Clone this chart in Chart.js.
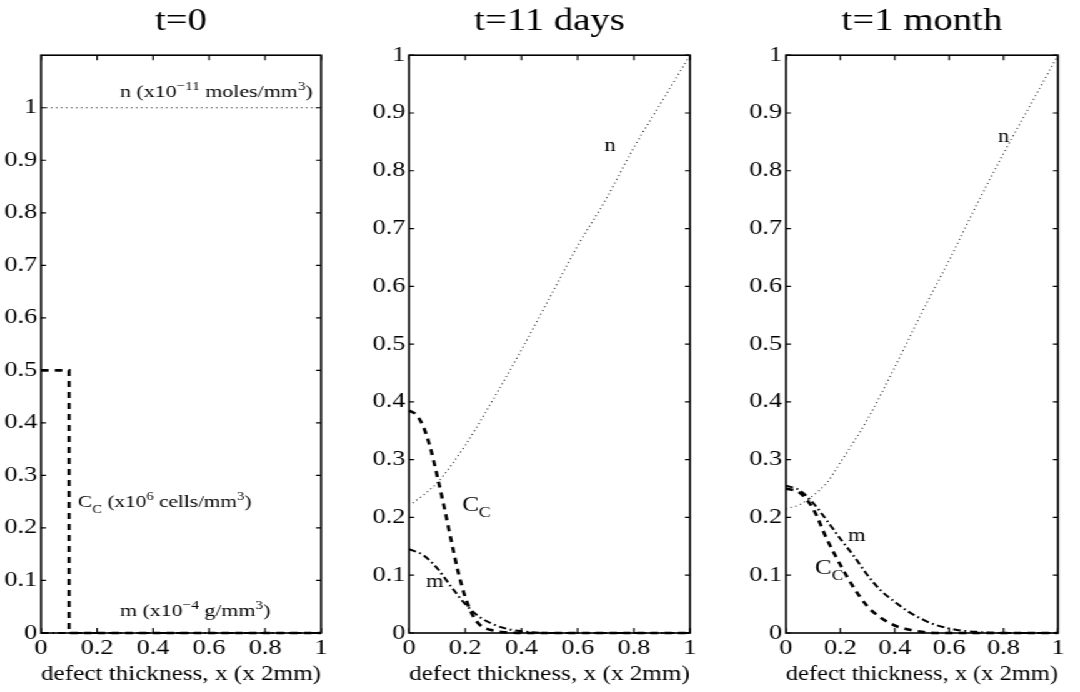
<!DOCTYPE html>
<html>
<head>
<meta charset="utf-8">
<script src="https://cdn.jsdelivr.net/npm/chart.js@4.4.1/dist/chart.umd.min.js"></script>
<style>
  html, body { margin: 0; padding: 0; background: #fff; overflow: hidden; }
  /* the original figure is stretched sideways, so draw narrow and widen */
  #stage { position: absolute; left: 0; top: 0; width: 864px; height: 692px; transform: scaleX(1.25); transform-origin: 0 0; }
  #stage canvas { position: absolute; top: 0; }
</style>
</head>
<body>
<div id="stage">
  <canvas id="c0" width="288" height="692" style="left:0px"></canvas>
  <canvas id="c1" width="288" height="692" style="left:288px"></canvas>
  <canvas id="c2" width="288" height="692" style="left:576px"></canvas>
</div>
<script>
// Tick labels
const xTickLabels = ["0", "0.2", "0.4", "0.6", "0.8", "1"];
const yTickLabels = ["0", "0.1", "0.2", "0.3", "0.4", "0.5", "0.6", "0.7", "0.8", "0.9", "1"];
const panelTitles = ["t=0", "t=11 days", "t=1 month"];
const xAxisTitle = "defect thickness, x (x 2mm)";

// t=0
const n0X = [0, 1];
const n0Y = [1, 1];
const cc0X = [0, 0.1, 0.1, 1];
const cc0Y = [0.5, 0.5, 0, 0];
const m0X = [0, 1];
const m0Y = [0, 0];

// t=11 days
const n11X = [0, 0.1, 0.2, 0.3, 0.4, 0.5, 0.6, 0.7, 0.8, 0.9, 1];
const n11Y = [0.22, 0.26, 0.325, 0.405, 0.49, 0.58, 0.67, 0.75, 0.84, 0.92, 1.0];
const cc11X = [0, 0.025, 0.05, 0.075, 0.1, 0.125, 0.15, 0.175, 0.2, 0.225, 0.25, 0.3, 0.35, 0.4, 0.6, 0.8, 1];
const cc11Y = [0.385, 0.378, 0.358, 0.322, 0.272, 0.218, 0.16, 0.105, 0.062, 0.032, 0.015, 0.004, 0.001, 0, 0, 0, 0];
const m11X = [0, 0.05, 0.1, 0.15, 0.2, 0.25, 0.3, 0.35, 0.4, 0.45, 0.5, 0.6, 0.8, 1];
const m11Y = [0.145, 0.135, 0.112, 0.08, 0.05, 0.028, 0.015, 0.007, 0.003, 0.001, 0, 0, 0, 0];

// t=1 month
const n30X = [0, 0.05, 0.1, 0.15, 0.2, 0.3, 0.4, 0.5, 0.6, 0.7, 0.8, 0.9, 1];
const n30Y = [0.215, 0.222, 0.238, 0.26, 0.295, 0.37, 0.46, 0.555, 0.645, 0.74, 0.83, 0.915, 1.0];
const cc30X = [0, 0.05, 0.1, 0.15, 0.2, 0.25, 0.3, 0.35, 0.4, 0.45, 0.5, 0.55, 0.6, 0.8, 1];
const cc30Y = [0.25, 0.243, 0.215, 0.163, 0.118, 0.078, 0.046, 0.026, 0.013, 0.006, 0.002, 0, 0, 0, 0];
const m30X = [0, 0.05, 0.1, 0.15, 0.2, 0.25, 0.3, 0.35, 0.4, 0.45, 0.5, 0.55, 0.6, 0.65, 0.7, 0.8, 0.9, 1];
const m30Y = [0.255, 0.247, 0.225, 0.195, 0.163, 0.133, 0.1, 0.073, 0.054, 0.037, 0.024, 0.014, 0.008, 0.004, 0.002, 0, 0, 0];

const SERIF = '"Liberation Serif", "Times New Roman", serif';
Chart.defaults.color = "#000";

function pts(xs, ys) {
  return xs.map((x, i) => ({ x: x, y: ys[i] }));
}

// line styles: n dotted, C_C dashed, m dash-dot
function nLine(xs, ys) {
  return { data: pts(xs, ys), borderColor: "#222", borderWidth: 1.1, borderDash: [1, 3] };
}
function ccLine(xs, ys) {
  return { data: pts(xs, ys), borderColor: "#000", borderWidth: 2.6, borderDash: [6, 5] };
}
function mLine(xs, ys) {
  return { data: pts(xs, ys), borderColor: "#000", borderWidth: 2, borderDash: [6, 3, 1.5, 3] };
}

// box + inward ticks on all four sides
const frame = {
  id: "frame",
  beforeDatasetsDraw(chart) {
    const ctx = chart.ctx;
    const a = chart.chartArea;
    const x = chart.scales.x, y = chart.scales.y;
    ctx.save();
    ctx.strokeStyle = "#000";
    ctx.lineWidth = 1.6;
    ctx.strokeRect(a.left, a.top, a.right - a.left, a.bottom - a.top);
    ctx.lineWidth = 1.2;
    ctx.beginPath();
    xTickLabels.forEach(t => {
      const px = x.getPixelForValue(+t);
      ctx.moveTo(px, a.bottom); ctx.lineTo(px, a.bottom - 5);
      ctx.moveTo(px, a.top); ctx.lineTo(px, a.top + 5);
    });
    yTickLabels.forEach(t => {
      const py = y.getPixelForValue(+t);
      ctx.moveTo(a.left, py); ctx.lineTo(a.left + 4, py);
      ctx.moveTo(a.right, py); ctx.lineTo(a.right - 4, py);
    });
    ctx.stroke();
    ctx.restore();
  }
};

// text with super/subscripts
function drawRich(ctx, parts, x, y, size, align) {
  const f = s => s + "px " + SERIF;
  let w = 0;
  parts.forEach(p => { ctx.font = f(p[1] === "n" ? size : size * 0.7); w += ctx.measureText(p[0]).width; });
  let cx = align === "right" ? x - w : align === "center" ? x - w / 2 : x;
  parts.forEach(p => {
    const s = p[1] === "n" ? size : size * 0.7;
    ctx.font = f(s);
    const dy = p[1] === "sup" ? -size * 0.42 : p[1] === "sub" ? size * 0.3 : 0;
    ctx.fillText(p[0], cx, y + dy);
    cx += ctx.measureText(p[0]).width;
  });
}

const notesPlugin = {
  id: "notes",
  afterDatasetsDraw(chart, args, opts) {
    const ctx = chart.ctx;
    ctx.save();
    ctx.fillStyle = "#000";
    ctx.textAlign = "left";
    ctx.textBaseline = "alphabetic";
    (opts.items || []).forEach(n => {
      drawRich(ctx, n.parts, chart.scales.x.getPixelForValue(n.x), chart.scales.y.getPixelForValue(n.y), n.size, n.align);
    });
    ctx.restore();
  }
};

function makePanel(id, title, yMax, left, right, sets, notes, smooth) {
  new Chart(document.getElementById(id), {
    type: "scatter",
    data: {
      datasets: sets.map(s => Object.assign(s, {
        showLine: true, pointRadius: 0, fill: false, clip: false,
        tension: 0, cubicInterpolationMode: smooth ? "monotone" : "default"
      }))
    },
    options: {
      responsive: false,
      animation: false,
      devicePixelRatio: 1,
      layout: { padding: { left: 0, right: 288 - right, top: 0, bottom: 0 } },
      plugins: {
        legend: { display: false },
        tooltip: { enabled: false },
        title: {
          display: true, text: title, fullSize: false, color: "#000",
          font: { family: SERIF, size: 31, weight: "normal" },
          padding: { top: 3, bottom: 15 }
        },
        notes: { items: notes }
      },
      scales: {
        x: {
          type: "linear", min: 0, max: 1,
          grid: { display: false, drawTicks: false },
          border: { display: false },
          afterBuildTicks: s => { s.ticks = xTickLabels.map(t => ({ value: +t })); },
          afterFit: s => { s.height = 59; },
          ticks: { autoSkip: false, maxRotation: 0, padding: 3, color: "#000",
            font: { family: SERIF, size: 21 }, callback: (v, i) => xTickLabels[i] },
          title: { display: true, text: xAxisTitle, color: "#000",
            font: { family: SERIF, size: 22 }, padding: { top: 0, bottom: 5 } }
        },
        y: {
          type: "linear", min: 0, max: yMax,
          grid: { display: false, drawTicks: false },
          border: { display: false },
          afterBuildTicks: s => { s.ticks = yTickLabels.map(t => ({ value: +t })); },
          afterFit: s => { s.width = left; },
          ticks: { autoSkip: false, padding: 3, color: "#000",
            font: { family: SERIF, size: 21 }, callback: (v, i) => yTickLabels[i] }
        }
      }
    },
    plugins: [frame, notesPlugin]
  });
}

makePanel("c0", panelTitles[0], 1.1, 32.8, 256.8,
  [nLine(n0X, n0Y), ccLine(cc0X, cc0Y), mLine(m0X, m0Y)],
  [
    { x: 0.97, y: 1.02, size: 17.5, align: "right",
      parts: [["n (x10", "n"], ["\u221211", "sup"], [" moles/mm", "n"], ["3", "sup"], [")", "n"]] },
    { x: 0.132, y: 0.239, size: 17, align: "left",
      parts: [["C", "n"], ["C", "sub"], [" (x10", "n"], ["6", "sup"], [" cells/mm", "n"], ["3", "sup"], [")", "n"]] },
    { x: 0.282, y: 0.032, size: 17.5, align: "left",
      parts: [["m (x10", "n"], ["\u22124", "sup"], [" g/mm", "n"], ["3", "sup"], [")", "n"]] }
  ], false);

makePanel("c1", panelTitles[1], 1, 39.2, 264,
  [nLine(n11X, n11Y), ccLine(cc11X, cc11Y), mLine(m11X, m11Y)],
  [
    { x: 0.715, y: 0.834, size: 18, align: "center", parts: [["n", "n"]] },
    { x: 0.189, y: 0.212, size: 20, align: "left", parts: [["C", "n"], ["C", "sub"]] },
    { x: 0.06, y: 0.08, size: 18, align: "left", parts: [["m", "n"]] }
  ], true);

makePanel("c2", panelTitles[2], 1, 52.8, 270.4,
  [nLine(n30X, n30Y), ccLine(cc30X, cc30Y), mLine(m30X, m30Y)],
  [
    { x: 0.78, y: 0.85, size: 18, align: "left", parts: [["n", "n"]] },
    { x: 0.228, y: 0.159, size: 18, align: "left", parts: [["m", "n"]] },
    { x: 0.107, y: 0.102, size: 20, align: "left", parts: [["C", "n"], ["C", "sub"]] }
  ], true);
</script>
</body>
</html>
